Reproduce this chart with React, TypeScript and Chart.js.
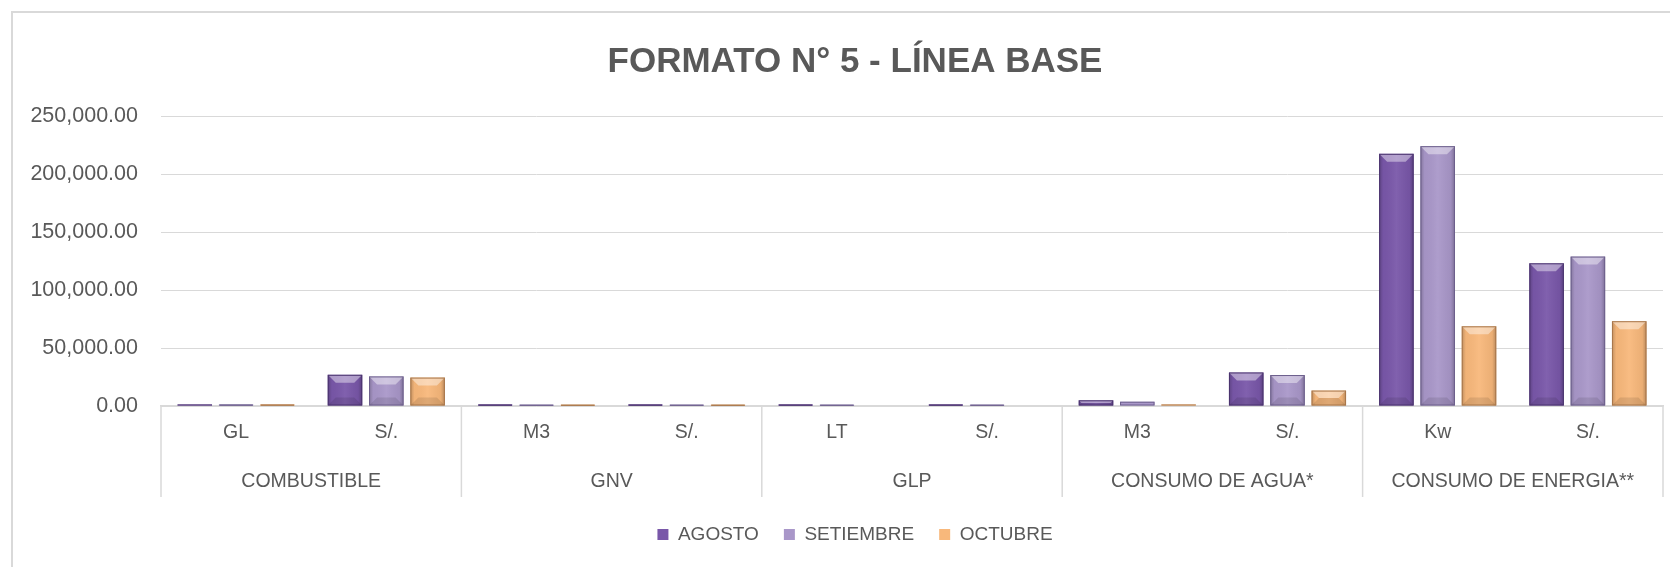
import React, { useEffect, useRef } from 'react';
import { Chart, registerables } from 'chart.js';

Chart.register(...registerables);

// ---- data ----
const SUB_LABELS = ['GL', 'S/.', 'M3', 'S/.', 'LT', 'S/.', 'M3', 'S/.', 'Kw', 'S/.'];
const GROUP_LABELS = ['COMBUSTIBLE', 'GNV', 'GLP', 'CONSUMO DE AGUA*', 'CONSUMO DE ENERGIA**'];
const GROUP_SIZES = [2, 2, 2, 2, 2];
const SERIES_NAMES = ['AGOSTO', 'SETIEMBRE', 'OCTUBRE'];
const AGOSTO = [1300, 26900, 1200, 1200, 1200, 1200, 4900, 28900, 217400, 123000];
const SETIEMBRE = [1200, 25500, 1100, 1100, 1100, 1100, 3700, 26700, 224000, 128800];
const OCTUBRE = [1200, 24500, 1100, 1100, 0, 0, 1300, 13300, 68700, 73100];
const Y_MAX = 250000;
const Y_STEP = 50000;
const TITLE = 'FORMATO N° 5 - LÍNEA BASE';

// ---- styles ----
const FILL_COLORS = ['#7957a9', '#a997c9', '#f8b87b'];
const EDGE_COLORS = ['#4a336e', '#6c5f8c', '#a8764a'];
const TEXT = '#595959';
const LINE = '#d9d9d9';
const FONT = "'Liberation Sans', Arial, sans-serif";

const bevelPlugin = {
  id: 'bevel',
  afterDatasetsDraw(chart: any) {
    const ctx = chart.ctx;
    chart.data.datasets.forEach((_ds: any, di: number) => {
      const meta = chart.getDatasetMeta(di);
      if (meta.hidden) return;
      meta.data.forEach((bar: any) => {
        const { x, y, base, width } = bar.getProps(['x', 'y', 'base', 'width'], true);
        const left = x - width / 2;
        const right = x + width / 2;
        const top = Math.min(y, base);
        const bottom = Math.max(y, base);
        const h = bottom - top;
        if (h < 0.5) return;
        ctx.save();
        if (h >= 4) {
          const g = ctx.createLinearGradient(left, 0, right, 0);
          g.addColorStop(0, 'rgba(0,0,0,0.22)');
          g.addColorStop(0.12, 'rgba(0,0,0,0.03)');
          g.addColorStop(0.5, 'rgba(255,255,255,0.06)');
          g.addColorStop(0.88, 'rgba(0,0,0,0.05)');
          g.addColorStop(1, 'rgba(0,0,0,0.25)');
          ctx.fillStyle = g;
          ctx.fillRect(left, top, width, h);
          const b = Math.min(8, h / 2, width / 4);
          ctx.beginPath();
          ctx.moveTo(left, top);
          ctx.lineTo(right, top);
          ctx.lineTo(right - b, top + b);
          ctx.lineTo(left + b, top + b);
          ctx.closePath();
          ctx.fillStyle = 'rgba(255,255,255,0.42)';
          ctx.fill();
          ctx.beginPath();
          ctx.moveTo(left, bottom);
          ctx.lineTo(right, bottom);
          ctx.lineTo(right - b, bottom - b);
          ctx.lineTo(left + b, bottom - b);
          ctx.closePath();
          ctx.fillStyle = 'rgba(0,0,0,0.1)';
          ctx.fill();
        }
        ctx.strokeStyle = EDGE_COLORS[di];
        ctx.lineWidth = 1;
        ctx.strokeRect(left + 0.5, top + 0.5, Math.max(width - 1, 0), Math.max(h - 1, 0));
        ctx.restore();
      });
    });
  },
};

const dividerPlugin = {
  id: 'groupDividers',
  afterDraw(chart: any) {
    const xs = chart.scales.x;
    const x2 = chart.scales.x2;
    const area = chart.chartArea;
    const ctx = chart.ctx;
    const bounds: number[] = [area.left];
    let idx = 0;
    GROUP_SIZES.forEach((n) => {
      idx += n;
      if (idx < SUB_LABELS.length) {
        bounds.push((xs.getPixelForTick(idx - 1) + xs.getPixelForTick(idx)) / 2);
      }
    });
    bounds.push(area.right);
    ctx.save();
    ctx.strokeStyle = LINE;
    ctx.lineWidth = 1.5;
    bounds.forEach((px) => {
      ctx.beginPath();
      ctx.moveTo(px, area.bottom);
      ctx.lineTo(px, x2.bottom - 3);
      ctx.stroke();
    });
    ctx.restore();
  },
};

export default function App() {
  const ref = useRef<HTMLCanvasElement | null>(null);

  useEffect(() => {
    if (!ref.current) return;
    const series = [AGOSTO, SETIEMBRE, OCTUBRE];
    const chart = new Chart(ref.current, {
      type: 'bar',
      data: {
        labels: SUB_LABELS,
        datasets: series.map((d, i) => ({
          label: SERIES_NAMES[i],
          data: d,
          backgroundColor: FILL_COLORS[i],
          borderWidth: 0,
          categoryPercentage: 0.825,
          barPercentage: 0.835,
          xAxisID: 'x',
          yAxisID: 'y',
        })),
      },
      options: {
        responsive: false,
        animation: false,
        devicePixelRatio: 1,
        layout: { padding: { left: 0, right: 0, top: 0, bottom: 19 } },
        plugins: {
          title: {
            display: true,
            text: TITLE,
            color: TEXT,
            font: { family: FONT, size: 35, weight: 'bold' },
            padding: { top: 28, bottom: 33 },
          },
          legend: {
            position: 'bottom',
            labels: {
              boxWidth: 11,
              boxHeight: 11,
              padding: 25,
              color: TEXT,
              font: { family: FONT, size: 19 },
            },
          },
          tooltip: { enabled: false },
        },
        scales: {
          y: {
            position: 'left',
            min: 0,
            max: Y_MAX,
            ticks: {
              stepSize: Y_STEP,
              padding: 23,
              color: TEXT,
              font: { family: FONT, size: 21.5 },
              callback: (v: any) =>
                Number(v).toLocaleString('en-US', { minimumFractionDigits: 2, maximumFractionDigits: 2 }),
            },
            grid: { color: LINE, lineWidth: 1, drawTicks: false },
            border: { display: false },
            afterFit: (s: any) => {
              s.width = 148;
            },
          },
          yRight: {
            type: 'linear',
            position: 'right',
            display: true,
            grid: { display: false, drawTicks: false },
            border: { display: false },
            ticks: { display: false },
            afterFit: (s: any) => {
              s.width = 34;
            },
          },
          x: {
            type: 'category',
            position: 'bottom',
            offset: true,
            grid: { display: false, drawTicks: false },
            border: { display: true, color: LINE, width: 1.5 },
            ticks: {
              autoSkip: false,
              maxRotation: 0,
              padding: 15,
              color: TEXT,
              font: { family: FONT, size: 19.5 },
            },
            afterFit: (s: any) => {
              s.height = 50;
            },
          },
          x2: {
            type: 'category',
            position: 'bottom',
            labels: GROUP_LABELS,
            offset: true,
            grid: { display: false, drawTicks: false },
            border: { display: false },
            ticks: {
              autoSkip: false,
              maxRotation: 0,
              padding: 14,
              color: TEXT,
              font: { family: FONT, size: 19.5 },
            },
            afterFit: (s: any) => {
              s.height = 44;
            },
          },
        },
      } as any,
      plugins: [bevelPlugin, dividerPlugin],
    });
    return () => chart.destroy();
  }, []);

  return (
    <div
      style={{
        position: 'fixed',
        left: 0,
        top: 0,
        width: 1670,
        height: 567,
        overflow: 'hidden',
        background: '#ffffff',
      }}
    >
      <div
        style={{
          position: 'absolute',
          left: 11,
          top: 11,
          width: 1684,
          height: 600,
          border: '2px solid #d9d9d9',
          background: '#ffffff',
        }}
      >
        <canvas ref={ref} width={1684} height={560} style={{ display: 'block', width: 1684, height: 560 }} />
      </div>
    </div>
  );
}
